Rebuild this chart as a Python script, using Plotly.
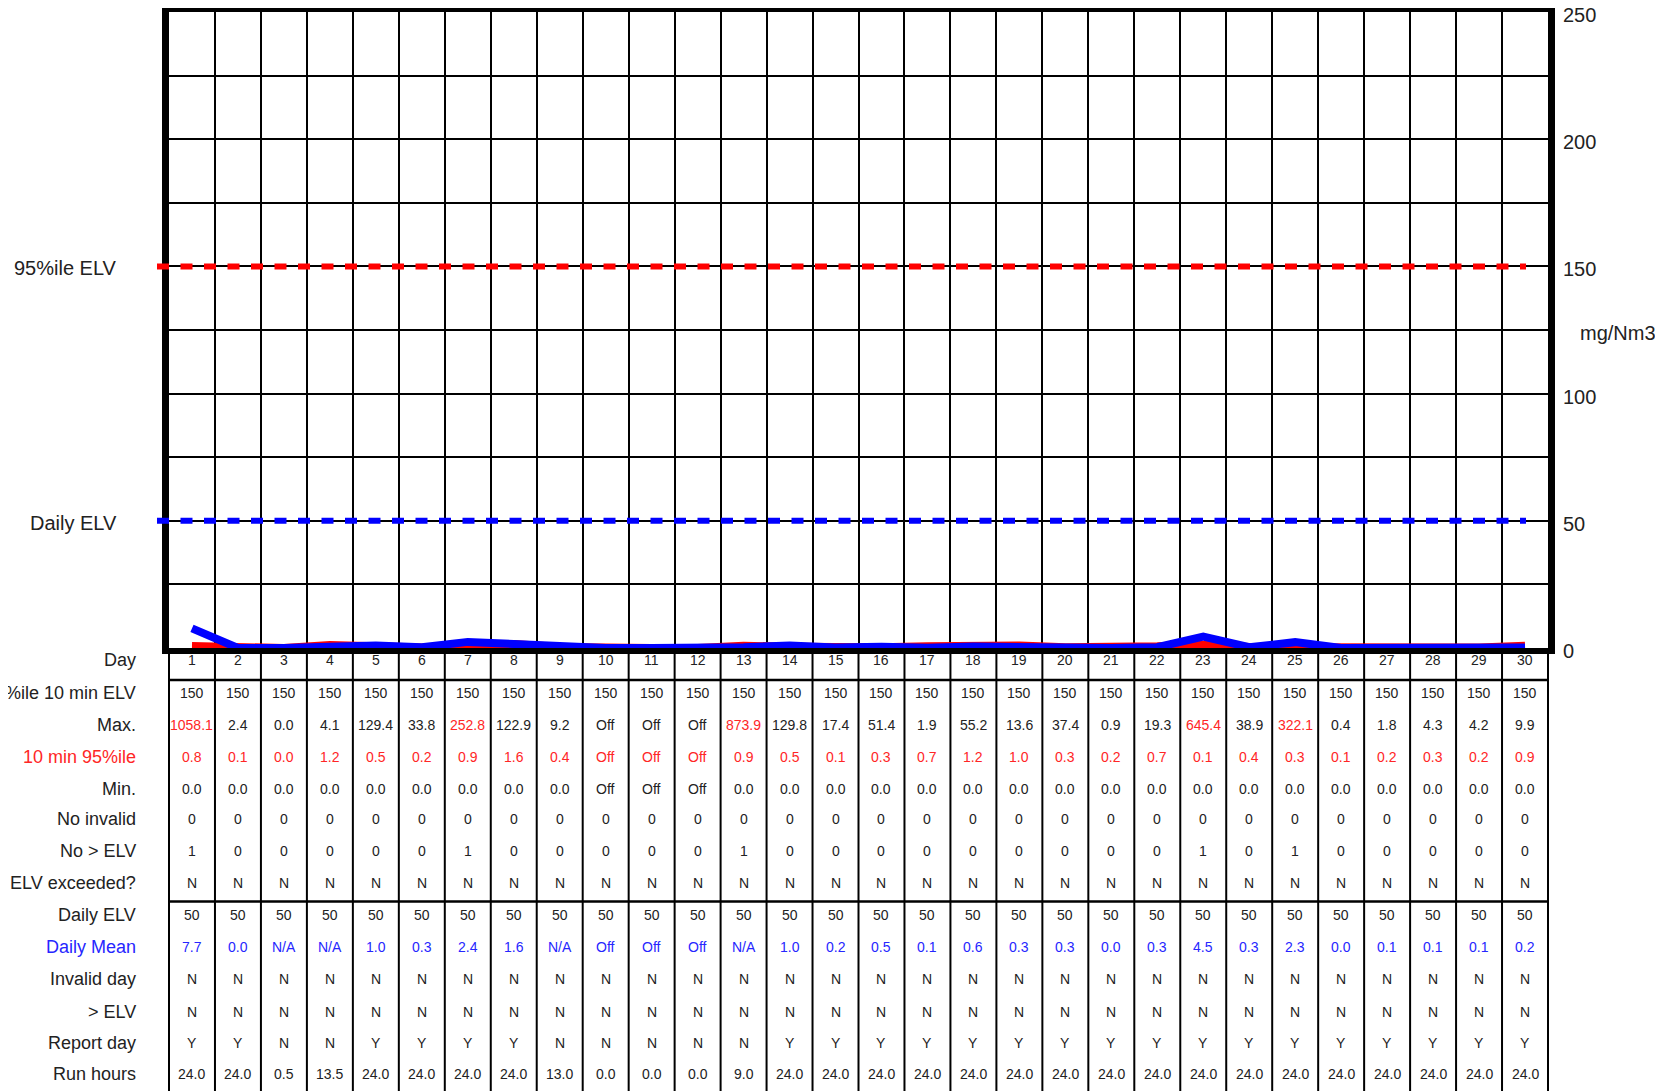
import plotly.graph_objects as go

# ---------------- data ----------------
days = list(range(1, 31))

ile_10min_elv = ["150"] * 30
max_vals = ["1058.1", "2.4", "0.0", "4.1", "129.4", "33.8", "252.8", "122.9", "9.2", "Off",
            "Off", "Off", "873.9", "129.8", "17.4", "51.4", "1.9", "55.2", "13.6", "37.4",
            "0.9", "19.3", "645.4", "38.9", "322.1", "0.4", "1.8", "4.3", "4.2", "9.9"]
p95_vals = ["0.8", "0.1", "0.0", "1.2", "0.5", "0.2", "0.9", "1.6", "0.4", "Off",
            "Off", "Off", "0.9", "0.5", "0.1", "0.3", "0.7", "1.2", "1.0", "0.3",
            "0.2", "0.7", "0.1", "0.4", "0.3", "0.1", "0.2", "0.3", "0.2", "0.9"]
min_vals = ["0.0", "0.0", "0.0", "0.0", "0.0", "0.0", "0.0", "0.0", "0.0", "Off",
            "Off", "Off", "0.0", "0.0", "0.0", "0.0", "0.0", "0.0", "0.0", "0.0",
            "0.0", "0.0", "0.0", "0.0", "0.0", "0.0", "0.0", "0.0", "0.0", "0.0"]
no_invalid = ["0"] * 30
no_gt_elv = ["1", "0", "0", "0", "0", "0", "1", "0", "0", "0",
             "0", "0", "1", "0", "0", "0", "0", "0", "0", "0",
             "0", "0", "1", "0", "1", "0", "0", "0", "0", "0"]
elv_exceeded = ["N"] * 30
daily_elv = ["50"] * 30
daily_mean = ["7.7", "0.0", "N/A", "N/A", "1.0", "0.3", "2.4", "1.6", "N/A", "Off",
              "Off", "Off", "N/A", "1.0", "0.2", "0.5", "0.1", "0.6", "0.3", "0.3",
              "0.0", "0.3", "4.5", "0.3", "2.3", "0.0", "0.1", "0.1", "0.1", "0.2"]
invalid_day = ["N"] * 30
gt_elv = ["N"] * 30
report_day = ["Y", "Y", "N", "N", "Y", "Y", "Y", "Y", "N", "N",
              "N", "N", "N", "Y", "Y", "Y", "Y", "Y", "Y", "Y",
              "Y", "Y", "Y", "Y", "Y", "Y", "Y", "Y", "Y", "Y"]
run_hours = ["24.0", "24.0", "0.5", "13.5", "24.0", "24.0", "24.0", "24.0", "13.0", "0.0",
             "0.0", "0.0", "9.0", "24.0", "24.0", "24.0", "24.0", "24.0", "24.0", "24.0",
             "24.0", "24.0", "24.0", "24.0", "24.0", "24.0", "24.0", "24.0", "24.0", "24.0"]

# plotted series
red_series = [0.8, 0.1, 0.0, 1.2, 0.5, 0.2, 0.9, 1.6, 0.4, 0.0,
              0.0, 0.0, 0.9, 0.5, 0.1, 0.3, 0.7, 1.2, 1.0, 0.3,
              0.2, 0.7, 1.3, 0.4, 0.3, 0.1, 0.2, 0.3, 0.2, 0.9]
blue_series = [7.7, 0.0, 0.0, 0.8, 1.0, 0.3, 2.4, 1.6, 0.6, 0.0,
               0.0, 0.0, 0.3, 1.0, 0.2, 0.5, 0.1, 0.6, 0.3, 0.3,
               0.0, 0.3, 4.5, 0.3, 2.3, 0.0, 0.1, 0.1, 0.1, 0.2]

limit_95 = 150
limit_daily = 50
y_ticks = [0, 25, 50, 75, 100, 125, 150, 175, 200, 225, 250]
y_ticktext = ["0", "", "50", "", "100", "", "150", "", "200", "", "250"]

row_labels = ["Day", "95%ile 10 min ELV", "Max.", "10 min 95%ile", "Min.", "No invalid",
              "No > ELV", "ELV exceeded?", "Daily ELV", "Daily Mean", "Invalid day",
              "> ELV", "Report day", "Run hours"]

# ---------------- layout constants ----------------
OFF = 8  # page (body) offset of the figure in the screenshot
W, H = 1663, 1091
ML = 169 - OFF
MR = W - (1548 - OFF)
MT = 4
MB = H - (648 - OFF)
PH = H - MT - MB
PW = W - ML - MR
FONT = "Liberation Sans"
BLACK = "#222222"
RED = "#ff2626"
BLUE = "#2626ff"


def py(px):
    # screenshot pixel row -> paper y
    return (H - MB - (px - OFF)) / PH


def pxx(px):
    # screenshot pixel column -> paper x
    return ((px - OFF) - ML) / PW


fig = go.Figure()
fig.add_trace(go.Scatter(x=days, y=red_series, mode="lines",
                         line=dict(color="#ff0000", width=8), hoverinfo="skip"))
fig.add_trace(go.Scatter(x=days, y=blue_series, mode="lines",
                         line=dict(color="#0000ff", width=8), hoverinfo="skip"))

shapes = []
# ELV dashed lines
for lim, colr in ((limit_95, "#ff0000"), (limit_daily, "#0000ff")):
    shapes.append(dict(type="line", xref="paper", yref="y", x0=pxx(157), x1=pxx(1526),
                       y0=lim, y1=lim, line=dict(color=colr, width=6, dash="12px,11.5px")))

# table grid
for k in range(1, 30):
    shapes.append(dict(type="line", xref="x", yref="paper", x0=k + 0.5, x1=k + 0.5,
                       y0=0, y1=py(H + 20), line=dict(color="black", width=2)))
for xe in (0, 1):
    shapes.append(dict(type="line", xref="paper", yref="paper", x0=xe, x1=xe,
                       y0=0, y1=py(H + 20), line=dict(color="black", width=2)))
for yl in (680, 901.5):
    shapes.append(dict(type="line", xref="paper", yref="paper", x0=0, x1=1,
                       y0=py(yl), y1=py(yl), line=dict(color="black", width=2.5)))

annotations = []
for txt, lim in (("95%ile ELV", limit_95), ("Daily ELV", limit_daily)):
    annotations.append(dict(text=txt, xref="paper", yref="y", x=pxx(119), y=lim,
                            xanchor="right", yanchor="middle", showarrow=False, yshift=-2,
                            font=dict(family=FONT, size=20, color=BLACK)))
annotations.append(dict(text="mg/Nm3", xref="paper", yref="paper", x=pxx(1618), y=py(333),
                        xanchor="center", yanchor="middle", showarrow=False,
                        font=dict(family=FONT, size=20, color=BLACK)))

row_y = [660, 693, 725, 757, 789, 819, 851, 883, 915, 947, 979, 1011.5, 1043, 1074]
label_colors = [BLACK, BLACK, BLACK, RED, BLACK, BLACK, BLACK, BLACK, BLACK, BLUE,
                BLACK, BLACK, BLACK, BLACK]
rows = [[str(d) for d in days], ile_10min_elv, max_vals, p95_vals, min_vals, no_invalid,
        no_gt_elv, elv_exceeded, daily_elv, daily_mean, invalid_day, gt_elv, report_day, run_hours]

for r, (lab, yy) in enumerate(zip(row_labels, row_y)):
    annotations.append(dict(text=lab, xref="paper", yref="paper", x=pxx(138), y=py(yy),
                            xanchor="right", yanchor="middle", showarrow=False,
                            font=dict(family=FONT, size=18, color=label_colors[r])))
    for i, d in enumerate(days):
        val = rows[r][i]
        col = BLACK
        if r == 3:
            col = RED
        elif r == 9:
            col = BLUE
        elif r == 2:
            try:
                if float(val) > limit_95:
                    col = RED
            except ValueError:
                pass
        annotations.append(dict(text=val, xref="x", yref="paper", x=d, y=py(yy),
                                xanchor="center", yanchor="middle", showarrow=False,
                                font=dict(family=FONT, size=14, color=col)))

fig.update_layout(
    width=W, height=H, margin=dict(l=ML, r=MR, t=MT, b=MB, autoexpand=False),
    paper_bgcolor="white", plot_bgcolor="white", showlegend=False,
    shapes=shapes, annotations=annotations,
    xaxis=dict(range=[0.5, 30.5], tickvals=[k + 0.5 for k in range(0, 31)], showticklabels=False,
               ticks="", showgrid=True, gridcolor="black", gridwidth=2, zeroline=False,
               showline=True, linecolor="black", linewidth=6, mirror=True, layer="below traces",
               fixedrange=True),
    yaxis=dict(range=[0, 250], side="right", tickvals=y_ticks, ticktext=y_ticktext,
               ticks="", showgrid=True, gridcolor="black", gridwidth=2, zeroline=False,
               showline=True, linecolor="black", linewidth=7, mirror=True, layer="below traces",
               ticklabelstandoff=4, ticklabeloverflow="allow", ticklabelshift=3,
               tickfont=dict(family=FONT, size=20, color=BLACK), fixedrange=True),
)

fig.write_html("out.html")
